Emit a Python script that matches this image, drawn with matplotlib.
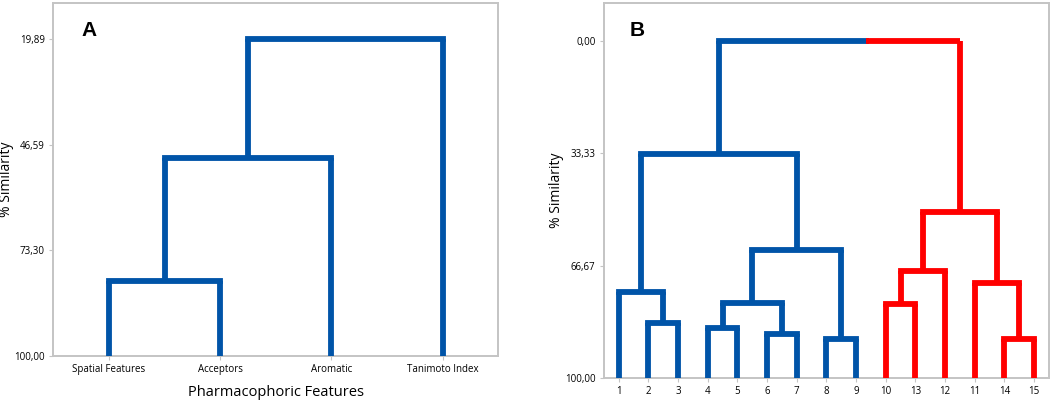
import matplotlib
matplotlib.use("Agg")
from matplotlib import pyplot as plt

# panel A: feature dendrogram
features = ["Spatial Features", "Acceptors", "Aromatic", "Tanimoto Index"]
# (left, right, similarity, new node)
merges_a = [
    ("Spatial Features", "Acceptors", 81.0, "a1"),
    ("a1", "Aromatic", 50.0, "a2"),
    ("a2", "Tanimoto Index", 19.89, "a3"),
]
ticks_a = [19.89, 46.59, 73.30, 100.00]

# panel B: observation dendrogram
obs_b = ["1", "2", "3", "4", "5", "6", "7", "8", "9", "10", "13", "12", "11", "14", "15"]
merges_b = [
    ("2", "3", 83.6, "b1"),
    ("1", "b1", 74.4, "b2"),
    ("4", "5", 85.1, "b3"),
    ("6", "7", 86.9, "b4"),
    ("b3", "b4", 77.8, "b5"),
    ("8", "9", 88.4, "b6"),
    ("b5", "b6", 62.1, "b7"),
    ("b2", "b7", 33.5, "b8"),
    ("10", "13", 77.9, "r1"),
    ("r1", "12", 68.2, "r2"),
    ("14", "15", 88.3, "r3"),
    ("11", "r3", 71.9, "r4"),
    ("r2", "r4", 50.7, "r5"),
    ("b8", "r5", 0.0, "top"),
]
red_group = ["10", "13", "12", "11", "14", "15", "r1", "r2", "r3", "r4", "r5"]
ticks_b = [0.00, 33.33, 66.67, 100.00]

BLUE = "#0054a8"
RED = "#ff0000"
FRAME = "#c4c4c4"
LW = 4.2

plt.rcParams["font.family"] = ["Open Sans", "DejaVu Sans"]


def draw_tree(ax, leaves, merges, color_of, split=None):
    x = {name: i + 1 for i, name in enumerate(leaves)}
    y = {name: 100.0 for name in leaves}
    for left, right, h, node in merges:
        cl, cr = color_of(left), color_of(right)
        ax.plot([x[left], x[left]], [y[left], h], color=cl, lw=LW, solid_capstyle="butt", zorder=3)
        ax.plot([x[right], x[right]], [y[right], h], color=cr, lw=LW, solid_capstyle="butt", zorder=3)
        if cl == cr or split is None:
            ax.plot([x[left], x[right]], [h, h], color=cl, lw=LW, solid_capstyle="projecting", zorder=3)
        else:
            ax.plot([x[left], split], [h, h], color=cl, lw=LW, solid_capstyle="projecting", zorder=3)
            ax.plot([split, x[right]], [h, h], color=cr, lw=LW, solid_capstyle="butt", zorder=3)
        x[node] = (x[left] + x[right]) / 2
        y[node] = h


def style(ax, ticks, labels, ylim):
    ax.set_xlim(0.5, len(labels) + 0.5)
    ax.set_ylim(*ylim)
    ax.set_yticks(ticks)
    ax.set_yticklabels([("%.2f" % t).replace(".", ",") for t in ticks])
    ax.set_xticks(range(1, len(labels) + 1))
    ax.set_xticklabels(labels)
    ax.tick_params(length=3, width=0.8, color=FRAME, labelsize=7, pad=3)
    for s in ax.spines.values():
        s.set_color(FRAME)
        s.set_linewidth(1.4)
    ax.set_ylabel("% Similarity", fontsize=10)
    ax.yaxis.set_label_coords(-0.089, 0.5)


fig = plt.figure(figsize=(10.59, 4.03), dpi=100)

axA = fig.add_axes([0.0503, 0.1166, 0.4202, 0.875])
draw_tree(axA, features, merges_a, lambda n: BLUE)
style(axA, ticks_a, features, (100, 10.87))
axA.set_xlabel("Pharmacophoric Features", fontsize=10.5, labelpad=7)
axA.text(0.064, 0.95, "A", transform=axA.transAxes, fontsize=15, fontweight="bold",
         family="Liberation Sans", va="top")

axB = fig.add_axes([0.5703, 0.062, 0.4202, 0.930])
draw_tree(axB, obs_b, merges_b, lambda n: RED if n in red_group else BLUE, split=9.34)
style(axB, ticks_b, obs_b, (100, -11.28))
axB.text(0.058, 0.952, "B", transform=axB.transAxes, fontsize=15, fontweight="bold",
         family="Liberation Sans", va="top")

fig.savefig("out.png", dpi=100)
